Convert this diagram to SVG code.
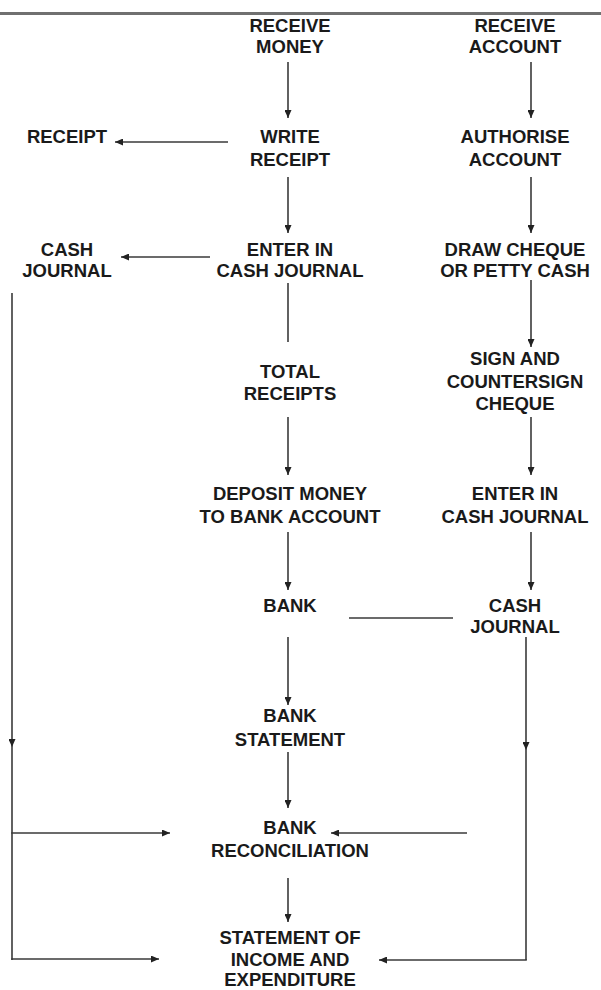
<svg xmlns="http://www.w3.org/2000/svg" width="601" height="990" viewBox="0 0 601 990">
<style>
  text { font-family: "Liberation Sans", Arial, sans-serif; font-weight: bold; font-size: 18.5px; fill: #1a1a1a; text-anchor: middle; }
  .c { stroke: #3a3a3a; stroke-width: 1.6; fill: none; }
  .a { marker-end: url(#arr); }
</style>
<defs>
  <marker id="arr" viewBox="0 0 8 7" refX="8" refY="3.5" markerWidth="8" markerHeight="7" markerUnits="userSpaceOnUse" orient="auto">
    <path d="M0,0 L8,3.5 L0,7 z" fill="#222"/>
  </marker>
</defs>
<rect width="601" height="990" fill="#ffffff"/>
<line x1="0" y1="13.5" x2="601" y2="13.5" stroke="#707070" stroke-width="3"/>

<g id="connectors">
  <line class="c a" x1="288" y1="62" x2="288" y2="118"/>
  <line class="c a" x1="288" y1="177" x2="288" y2="233"/>
  <line class="c" x1="288" y1="283" x2="288" y2="342"/>
  <line class="c a" x1="288" y1="417" x2="288" y2="475"/>
  <line class="c a" x1="288" y1="532" x2="288" y2="590"/>
  <line class="c a" x1="288" y1="637" x2="288" y2="705"/>
  <line class="c a" x1="288" y1="752" x2="288" y2="808"/>
  <line class="c a" x1="288" y1="878" x2="288" y2="922"/>

  <line class="c a" x1="531" y1="62" x2="531" y2="118"/>
  <line class="c a" x1="531" y1="177" x2="531" y2="233"/>
  <line class="c a" x1="531" y1="280" x2="531" y2="347"/>
  <line class="c a" x1="531" y1="417" x2="531" y2="475"/>
  <line class="c a" x1="531" y1="532" x2="531" y2="590"/>

  <line class="c a" x1="526" y1="637" x2="526" y2="750"/>
  <line class="c" x1="526" y1="750" x2="526" y2="960"/>
  <line class="c a" x1="526.8" y1="960" x2="379" y2="960"/>

  <line class="c a" x1="228" y1="142" x2="115" y2="142"/>
  <line class="c a" x1="210" y1="257" x2="121" y2="257"/>

  <line class="c a" x1="12" y1="293" x2="12" y2="747"/>
  <line class="c" x1="12" y1="747" x2="12" y2="960"/>
  <line class="c a" x1="11.2" y1="833" x2="170" y2="833"/>
  <line class="c a" x1="11.2" y1="959" x2="159" y2="959"/>

  <line class="c" x1="349" y1="618" x2="453" y2="618"/>
  <line class="c a" x1="467" y1="833" x2="331" y2="833"/>
</g>

<g id="receive-money"><text x="290" y="32">RECEIVE</text><text x="290" y="53">MONEY</text></g>
<g id="write-receipt"><text x="290" y="143">WRITE</text><text x="290" y="166">RECEIPT</text></g>
<g id="enter-cash-journal-1"><text x="290" y="256">ENTER IN</text><text x="290" y="277">CASH JOURNAL</text></g>
<g id="total-receipts"><text x="290" y="378">TOTAL</text><text x="290" y="400">RECEIPTS</text></g>
<g id="deposit-money"><text x="290" y="500">DEPOSIT MONEY</text><text x="290" y="523">TO BANK ACCOUNT</text></g>
<g id="bank"><text x="290" y="612">BANK</text></g>
<g id="bank-statement"><text x="290" y="722">BANK</text><text x="290" y="746">STATEMENT</text></g>
<g id="bank-reconciliation"><text x="290" y="834">BANK</text><text x="290" y="857">RECONCILIATION</text></g>
<g id="statement-income"><text x="290" y="944">STATEMENT OF</text><text x="290" y="966">INCOME AND</text><text x="290" y="986">EXPENDITURE</text></g>

<g id="receive-account"><text x="515" y="32">RECEIVE</text><text x="515" y="53">ACCOUNT</text></g>
<g id="authorise-account"><text x="515" y="143">AUTHORISE</text><text x="515" y="166">ACCOUNT</text></g>
<g id="draw-cheque"><text x="515" y="256">DRAW CHEQUE</text><text x="515" y="277">OR PETTY CASH</text></g>
<g id="sign-cheque"><text x="515" y="365">SIGN AND</text><text x="515" y="388">COUNTERSIGN</text><text x="515" y="410">CHEQUE</text></g>
<g id="enter-cash-journal-2"><text x="515" y="500">ENTER IN</text><text x="515" y="523">CASH JOURNAL</text></g>
<g id="cash-journal-right"><text x="515" y="612">CASH</text><text x="515" y="633">JOURNAL</text></g>

<g id="receipt"><text x="67" y="143">RECEIPT</text></g>
<g id="cash-journal-left"><text x="67" y="256">CASH</text><text x="67" y="277">JOURNAL</text></g>
</svg>
